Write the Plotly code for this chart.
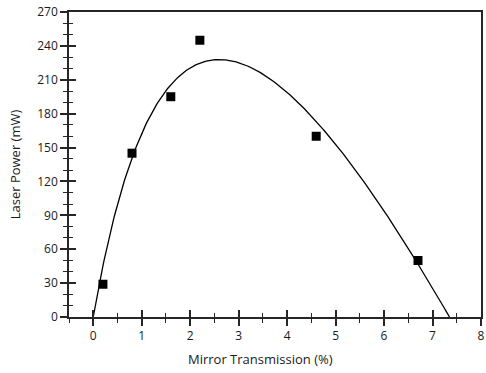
import numpy as np
import plotly.graph_objects as go

# Measured output power versus output-coupler transmission
transmission = [0.2, 0.8, 1.6, 2.2, 4.6, 6.7]      # %
power = [29, 145, 195, 245, 160, 50]               # mW

# Rigrod-type fit: P = A * T * (G / (T + L) - 1)
fit_A = 106.0     # mW per % (scale)
fit_G = 10.494    # round-trip small-signal gain, %
fit_L = 3.144     # round-trip passive loss, %

t_fit = np.linspace(0.0, fit_G - fit_L, 300)
p_fit = fit_A * t_fit * (fit_G / (t_fit + fit_L) - 1.0)

AX = "#262626"
FONT = "Open Sans"

fig = go.Figure()
fig.add_trace(go.Scatter(x=t_fit, y=p_fit, mode="lines",
                         line=dict(color="black", width=1.3),
                         hoverinfo="skip", showlegend=False))
fig.add_trace(go.Scatter(x=transmission, y=power, mode="markers",
                         marker=dict(symbol="square", size=9, color="black"),
                         showlegend=False))

xr = [-0.5, 8]
yr = [0, 270]

common_x = dict(range=xr, tickmode="linear", tick0=0, dtick=1, showgrid=False,
                zeroline=False, ticklen=7, tickwidth=1.5, tickcolor=AX,
                minor=dict(dtick=0.5, tick0=0, ticklen=4, tickwidth=1.2, tickcolor=AX))
common_y = dict(range=yr, tickmode="linear", tick0=0, dtick=30, showgrid=False,
                zeroline=False, ticklen=7, tickwidth=1.5, tickcolor=AX,
                minor=dict(dtick=10, tick0=0, ticklen=4, tickwidth=1.2, tickcolor=AX))

fig.update_layout(
    width=486, height=373,
    margin=dict(l=69, r=1, t=12, b=56),
    paper_bgcolor="white", plot_bgcolor="white",
    font=dict(family=FONT, size=12, color="#1a1a1a"),
    xaxis=dict(**common_x, ticks="outside", showline=True, linecolor=AX,
               linewidth=1.5, mirror=True, ticklabeloverflow="allow",
               minor_ticks="outside"),
    yaxis=dict(**common_y, ticks="outside", showline=True, linecolor=AX,
               linewidth=1.5, mirror=True,
               minor_ticks="outside",
               title=dict(text="Laser Power (mW)", font=dict(size=13), standoff=14)),
    # companion axes carry the inward half of each tick mark
    xaxis2=dict(**common_x, overlaying="x", side="bottom", ticks="inside",
                minor_ticks="inside", showticklabels=False, showline=False),
    yaxis2=dict(**common_y, overlaying="y", side="left", ticks="inside",
                minor_ticks="inside", showticklabels=False, showline=False),
    annotations=[dict(text="Mirror Transmission (%)", xref="paper", yref="paper",
                      x=0.464, y=0, yshift=-42, xanchor="center", yanchor="middle",
                      showarrow=False, font=dict(size=13))],
)
fig.add_trace(go.Scatter(x=[None], y=[None], xaxis="x2", yaxis="y2",
                         showlegend=False, hoverinfo="skip"))

fig.write_html("out.html")
